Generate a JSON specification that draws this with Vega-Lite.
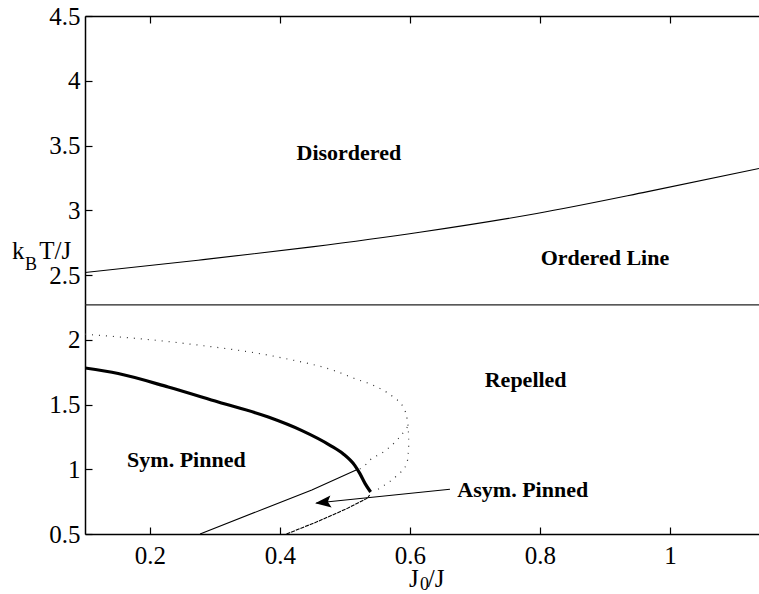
{
  "$schema": "https://vega.github.io/schema/vega-lite/v6.json",
  "width": 674,
  "height": 518,
  "autosize": {"type": "none"},
  "padding": {"left": 85, "top": 16, "right": 0, "bottom": 60},
  "background": "white",
  "config": {
    "view": {"stroke": null},
    "axis": {
      "grid": false,
      "domainColor": "black",
      "domainWidth": 1.5,
      "tickColor": "black",
      "tickWidth": 1.2,
      "tickSize": -7,
      "labelFont": "Liberation Serif",
      "labelFontSize": 25,
      "labelColor": "black",
      "title": null,
      "format": "~g"
    }
  },
  "datasets": {
    "curves": [
      {"s": "top", "i": 0, "x": 0.1, "y": 2.519},
      {"s": "top", "i": 1, "x": 0.274, "y": 2.614},
      {"s": "top", "i": 2, "x": 0.449, "y": 2.717},
      {"s": "top", "i": 3, "x": 0.615, "y": 2.83},
      {"s": "top", "i": 4, "x": 0.795, "y": 2.975},
      {"s": "top", "i": 5, "x": 0.964, "y": 3.142},
      {"s": "top", "i": 6, "x": 1.137, "y": 3.323},
      {"s": "tc", "i": 0, "x": 0.1, "y": 2.269},
      {"s": "tc", "i": 1, "x": 1.137, "y": 2.269},
      {"s": "thick", "i": 0, "x": 0.1, "y": 1.782},
      {"s": "thick", "i": 1, "x": 0.151, "y": 1.739},
      {"s": "thick", "i": 2, "x": 0.228, "y": 1.635},
      {"s": "thick", "i": 3, "x": 0.305, "y": 1.519},
      {"s": "thick", "i": 4, "x": 0.382, "y": 1.403},
      {"s": "thick", "i": 5, "x": 0.433, "y": 1.3},
      {"s": "thick", "i": 6, "x": 0.477, "y": 1.185},
      {"s": "thick", "i": 7, "x": 0.497, "y": 1.12},
      {"s": "thick", "i": 8, "x": 0.515, "y": 1.03},
      {"s": "thick", "i": 9, "x": 0.523, "y": 0.966},
      {"s": "thick", "i": 10, "x": 0.531, "y": 0.889},
      {"s": "thick", "i": 11, "x": 0.5395, "y": 0.824},
      {"s": "dotA", "i": 0, "x": 0.1, "y": 2.043},
      {"s": "dotA", "i": 1, "x": 0.254, "y": 1.971},
      {"s": "dotA", "i": 2, "x": 0.408, "y": 1.855},
      {"s": "dotA", "i": 3, "x": 0.485, "y": 1.759},
      {"s": "dotA", "i": 4, "x": 0.515, "y": 1.7},
      {"s": "dotA", "i": 5, "x": 0.546, "y": 1.643},
      {"s": "dotA", "i": 6, "x": 0.574, "y": 1.558},
      {"s": "dotA", "i": 7, "x": 0.59, "y": 1.476},
      {"s": "dotA", "i": 8, "x": 0.596, "y": 1.378},
      {"s": "dotA", "i": 9, "x": 0.598, "y": 1.249},
      {"s": "dotA", "i": 10, "x": 0.598, "y": 1.172},
      {"s": "dotA", "i": 11, "x": 0.595, "y": 1.043},
      {"s": "dotA", "i": 12, "x": 0.58, "y": 0.952},
      {"s": "dotA", "i": 13, "x": 0.556, "y": 0.862},
      {"s": "dotA", "i": 14, "x": 0.5436, "y": 0.824},
      {"s": "dotB", "i": 0, "x": 0.596, "y": 1.326},
      {"s": "dotB", "i": 1, "x": 0.582, "y": 1.236},
      {"s": "dotB", "i": 2, "x": 0.559, "y": 1.133},
      {"s": "dotB", "i": 3, "x": 0.538, "y": 1.069},
      {"s": "dotB", "i": 4, "x": 0.528, "y": 1.017},
      {"s": "dotB", "i": 5, "x": 0.518, "y": 0.997},
      {"s": "thin", "i": 0, "x": 0.277, "y": 0.5},
      {"s": "thin", "i": 1, "x": 0.449, "y": 0.84},
      {"s": "thin", "i": 2, "x": 0.518, "y": 0.997},
      {"s": "jag", "i": 0, "x": 0.41, "y": 0.5},
      {"s": "jag", "i": 1, "x": 0.456, "y": 0.592},
      {"s": "jag", "i": 2, "x": 0.503, "y": 0.696},
      {"s": "jag", "i": 3, "x": 0.533, "y": 0.773},
      {"s": "jag", "i": 4, "x": 0.538, "y": 0.8},
      {"s": "arrow", "i": 0, "x": 0.6615, "y": 0.845},
      {"s": "arrow", "i": 1, "x": 0.456, "y": 0.739}
    ],
    "labels": [
      {"text": "Disordered", "x": 0.506, "y": 3.441},
      {"text": "Ordered Line", "x": 0.9, "y": 2.635},
      {"text": "Repelled", "x": 0.778, "y": 1.687},
      {"text": "Sym. Pinned", "x": 0.256, "y": 1.069},
      {"text": "Asym. Pinned", "x": 0.7735, "y": 0.842}
    ],
    "titles": [
      {"text": "k", "x": -0.0123, "y": 2.62},
      {"text": "T/J", "x": 0.0297, "y": 2.62},
      {"text": "J", "x": 0.5985, "y": 0.0907},
      {"text": "/J", "x": 0.6275, "y": 0.0907}
    ],
    "subs": [
      {"text": "B", "x": 0.0077, "y": 2.539},
      {"text": "0", "x": 0.6154, "y": 0.07}
    ],
    "heads": [
      {"x": 0.454, "y": 0.738}
    ]
  },
  "resolve": {"axis": {"x": "independent"}},
  "layer": [
    {
      "data": {"name": "curves"},
      "transform": [{"filter": "datum.s === 'top'"}],
      "mark": {"type": "line", "color": "black", "strokeWidth": 1.1, "interpolate": "monotone", "clip": true},
      "encoding": {
        "x": {"field": "x", "type": "quantitative", "scale": {"domain": [0.1, 1.137], "nice": false, "zero": false},
              "axis": {"orient": "bottom", "values": [0.2, 0.4, 0.6, 0.8, 1], "labelPadding": 16, "labelFont": "Liberation Serif", "labelFontSize": 25}},
        "y": {"field": "y", "type": "quantitative", "scale": {"domain": [0.5, 4.5], "nice": false, "zero": false},
              "axis": {"orient": "left", "values": [0.5, 1, 1.5, 2, 2.5, 3, 3.5, 4, 4.5], "labelPadding": 12, "labelFont": "Liberation Serif", "labelFontSize": 25}},
        "order": {"field": "i", "type": "quantitative"}
      }
    },
    {
      "data": {"name": "curves"},
      "transform": [{"filter": "datum.s === 'tc'"}],
      "mark": {"type": "line", "color": "#222", "strokeWidth": 1.2, "clip": true},
      "encoding": {
        "x": {"field": "x", "type": "quantitative",
              "axis": {"orient": "top", "values": [0.2, 0.4, 0.6, 0.8, 1], "labels": false}},
        "y": {"field": "y", "type": "quantitative"},
        "order": {"field": "i", "type": "quantitative"}
      }
    },
    {
      "data": {"name": "curves"},
      "transform": [{"filter": "datum.s === 'thin' || datum.s === 'arrow'"}],
      "mark": {"type": "line", "color": "black", "strokeWidth": 1.1, "clip": true},
      "encoding": {
        "x": {"field": "x", "type": "quantitative", "axis": null},
        "y": {"field": "y", "type": "quantitative"},
        "detail": {"field": "s"},
        "order": {"field": "i", "type": "quantitative"}
      }
    },
    {
      "data": {"name": "curves"},
      "transform": [{"filter": "datum.s === 'thick'"}],
      "mark": {"type": "line", "color": "black", "strokeWidth": 3.2, "interpolate": "monotone", "clip": true},
      "encoding": {
        "x": {"field": "x", "type": "quantitative", "axis": null},
        "y": {"field": "y", "type": "quantitative"},
        "order": {"field": "i", "type": "quantitative"}
      }
    },
    {
      "data": {"name": "curves"},
      "transform": [{"filter": "datum.s === 'jag'"}],
      "mark": {"type": "line", "color": "black", "strokeWidth": 1.1, "strokeDash": [4, 1], "clip": true},
      "encoding": {
        "x": {"field": "x", "type": "quantitative", "axis": null},
        "y": {"field": "y", "type": "quantitative"},
        "order": {"field": "i", "type": "quantitative"}
      }
    },
    {
      "data": {"name": "curves"},
      "transform": [{"filter": "datum.s === 'dotA' || datum.s === 'dotB'"}],
      "mark": {"type": "line", "color": "#333", "strokeWidth": 1.2, "strokeDash": [1, 6], "interpolate": "monotone", "clip": true},
      "encoding": {
        "x": {"field": "x", "type": "quantitative", "axis": null},
        "y": {"field": "y", "type": "quantitative"},
        "detail": {"field": "s"},
        "order": {"field": "i", "type": "quantitative"}
      }
    },
    {
      "data": {"name": "heads"},
      "mark": {"type": "point", "shape": "M0,0 L1,-0.375 L0.8,0 L1,0.375 Z", "size": 1024, "filled": true, "color": "black", "opacity": 1, "angle": -6},
      "encoding": {
        "x": {"field": "x", "type": "quantitative", "axis": null},
        "y": {"field": "y", "type": "quantitative"}
      }
    },
    {
      "data": {"name": "labels"},
      "mark": {"type": "text", "font": "Liberation Serif", "fontWeight": "bold", "fontSize": 22, "align": "center", "baseline": "middle", "color": "black"},
      "encoding": {
        "x": {"field": "x", "type": "quantitative", "axis": null},
        "y": {"field": "y", "type": "quantitative"},
        "text": {"field": "text"}
      }
    },
    {
      "data": {"name": "titles"},
      "mark": {"type": "text", "font": "Liberation Serif", "fontSize": 25, "align": "left", "baseline": "alphabetic", "color": "black"},
      "encoding": {
        "x": {"field": "x", "type": "quantitative", "axis": null},
        "y": {"field": "y", "type": "quantitative"},
        "text": {"field": "text"}
      }
    },
    {
      "data": {"name": "subs"},
      "mark": {"type": "text", "font": "Liberation Serif", "fontSize": 18, "align": "left", "baseline": "alphabetic", "color": "black"},
      "encoding": {
        "x": {"field": "x", "type": "quantitative", "axis": null},
        "y": {"field": "y", "type": "quantitative"},
        "text": {"field": "text"}
      }
    }
  ]
}
